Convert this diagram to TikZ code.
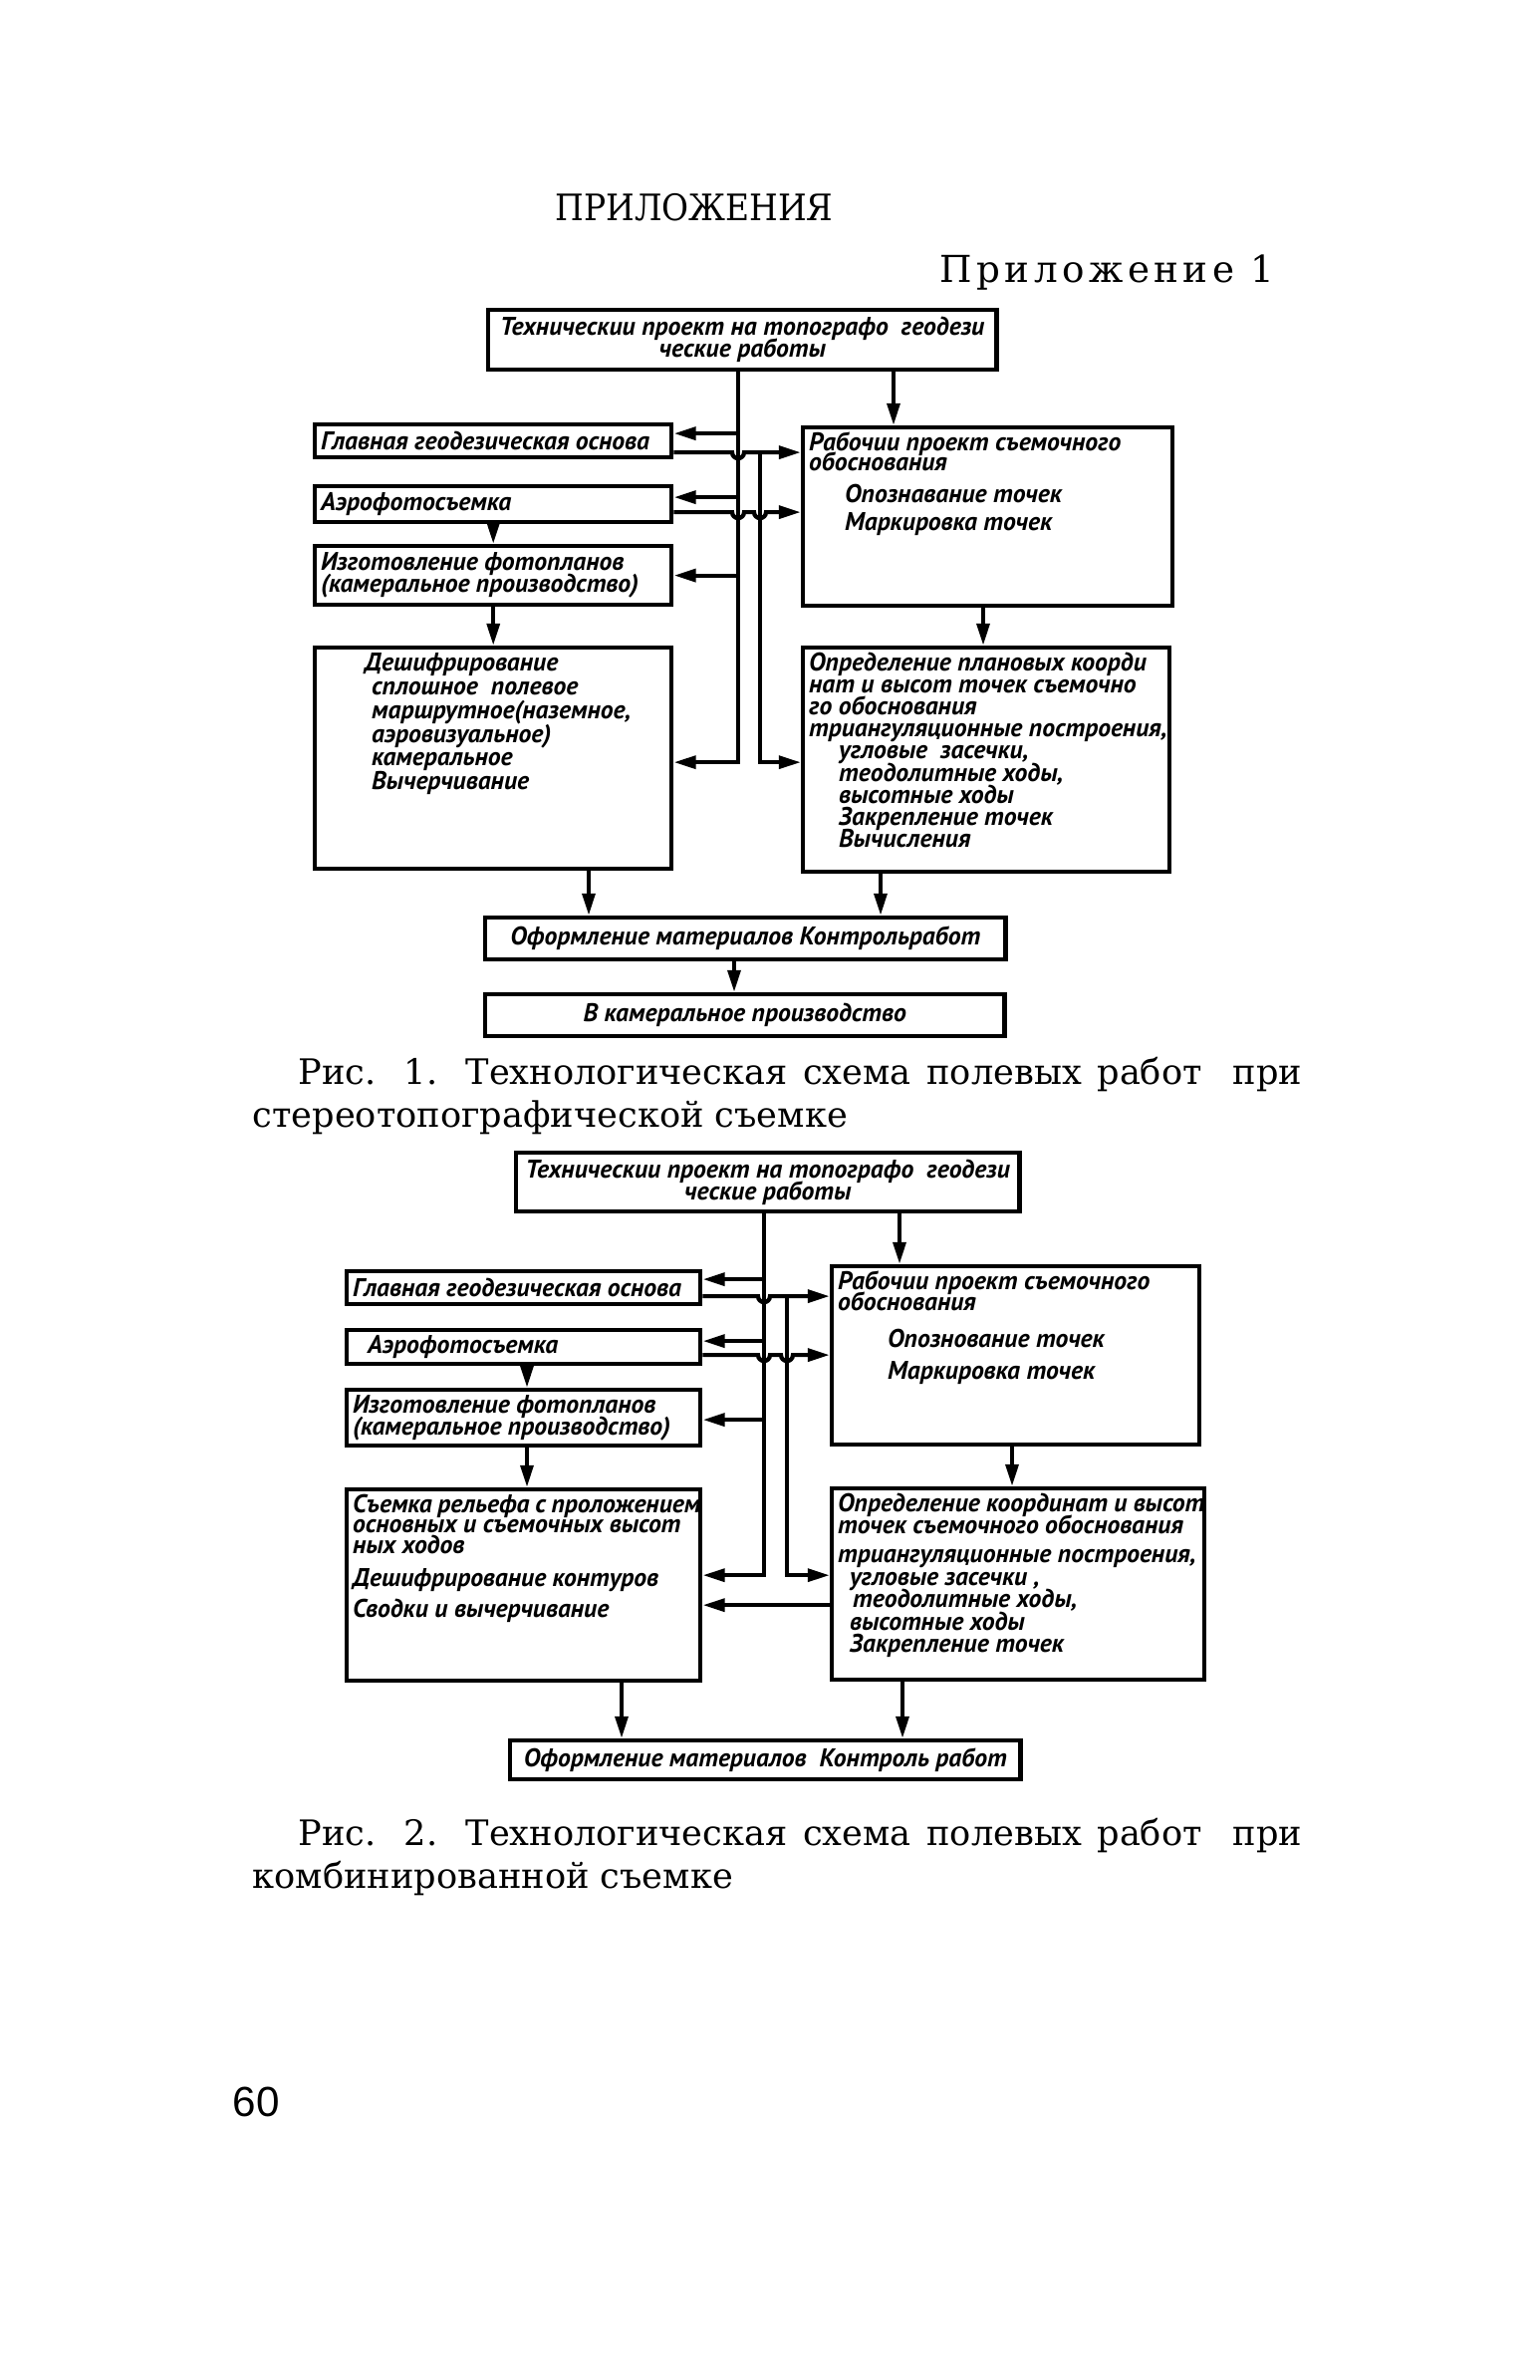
\documentclass[tikz,border=0pt]{standalone}
\usepackage{fontspec}
\setmainfont{DejaVu Serif}
\newfontfamily\draftfont{PT Sans}
\newfontfamily\pagefont{Liberation Sans}
\usepackage{tikz}
\usetikzlibrary{arrows.meta,calc}
% box contents: width, height, text
\newcommand{\plainbox}[3]{\begin{minipage}[c][#2][c]{#1}\lineskiplimit=-10pt\leftskip=0.06cm\relax #3\end{minipage}}
\newcommand{\tallbox}[3]{\begin{minipage}[c][#2][t]{#1}\lineskiplimit=-10pt\leftskip=0.06cm\relax\rule{0pt}{6.6pt}#3\end{minipage}}

\begin{document}
\begin{tikzpicture}[
    x=0.01cm, y=-0.01cm,
    box/.style={draw, line width=1.2pt, inner sep=0pt, anchor=north west,
                font=\draftfont\bfseries\itshape\fontsize{7.3}{6.3}\selectfont},
    arr/.style={-{Triangle[length=6.3pt,width=3.6pt]}, line width=1.2pt},
    caption/.style={anchor=base west, inner sep=0pt, text width=10.53cm, align=justify,
                    font=\fontsize{10}{12.5}\selectfont},
  ]
    \useasboundingbox (0,0) rectangle (1545,2389);

    \node[anchor=base, inner sep=0pt, font={\fontsize{10.4}{13}\selectfont\addfontfeatures{FakeStretch=0.9}}]
      (head) at (697,222) {ПРИЛОЖЕНИЯ};
    \node[anchor=base east, inner sep=0pt, font={\fontsize{10.6}{13}\selectfont\addfontfeatures{LetterSpace=12}}]
      (appx) at (1280,284) {Приложение 1};

    % figure 1
    \node[box] (tech1) at (488,309)
      {\plainbox{5.10cm}{0.60cm}{\centering Техническии проект на топографо\ \ геодези\\ческие работы}};
    \node[box] (main1) at (314,424) {\plainbox{3.58cm}{0.33cm}{Главная геодезическая основа}};
    \node[box] (aero1) at (314,486) {\plainbox{3.58cm}{0.36cm}{Аэрофотосъемка}};
    \node[box] (photo1) at (314,546)
      {\plainbox{3.58cm}{0.59cm}{Изготовление фотопланов\\(камеральное производство)}};
    \node[box] (decode1) at (314,648)
      {\tallbox{3.58cm}{2.22cm}{\baselineskip=6.8pt \leftskip=0.5cm Дешифрирование\\\hspace*{0.07cm}сплошное\ \ полевое\\
       \hspace*{0.07cm}маршрутное(наземное,\\\hspace*{0.07cm}аэровизуальное)\\
       \hspace*{0.07cm}камеральное\\\hspace*{0.07cm}Вычерчивание}};
    \node[box] (work1) at (804,427)
      {\tallbox{3.71cm}{1.79cm}{\baselineskip=5.8pt Рабочии проект съемочного\\обоснования\\[3.3pt]
       \hspace*{0.36cm}Опознавание точек\\[2.2pt]\hspace*{0.36cm}Маркировка точек}};
    \node[box] (coord1) at (804,648)
      {\tallbox{3.68cm}{2.25cm}{Определение плановых коорди\\нат и высот точек съемочно\\го обоснования\\
       триангуляционные построения,\\\hspace*{0.3cm}угловые\ \ засечки,\\
       \hspace*{0.3cm}теодолитные ходы,\\\hspace*{0.3cm}высотные ходы\\
       \hspace*{0.3cm}Закрепление точек\\\hspace*{0.3cm}Вычисления}};
    \node[box] (form1) at (485,919) {\plainbox{5.22cm}{0.42cm}{\centering Оформление материалов Контрольработ}};
    \node[box] (office1) at (485,996) {\plainbox{5.21cm}{0.42cm}{\centering В камеральное производство}};

    \coordinate (trunkA1) at (741,0);
    \coordinate (trunkB1) at (763,0);
    \coordinate (main1in) at ($(main1.east)+(0,-7.5)$);
    \coordinate (main1out) at ($(main1.east)+(0,11.5)$);
    \coordinate (aero1in) at ($(aero1.east)+(0,-7)$);
    \coordinate (aero1out) at ($(aero1.east)+(0,8)$);
    \coordinate (decode1in) at ($(decode1.east)+(0,4)$);
    \coordinate (drop1) at (897,0);
    \coordinate (drop2) at (987,0);
    \coordinate (drop3) at (591,0);
    \coordinate (drop4) at (884,0);
    \coordinate (drop5) at (737,0);

    \draw[arr] (tech1.south -| trunkA1) |- (decode1in);
    \draw[arr] (trunkA1 |- main1in) -- (main1in);
    \draw[arr] (trunkA1 |- aero1in) -- (aero1in);
    \draw[arr] (trunkA1 |- photo1.east) -- (photo1.east);
    \draw[arr] (main1out) -- ($(trunkA1 |- main1out)+(-6,0)$) arc[start angle=180, end angle=360, radius=0.06cm]
      -- (main1out -| work1.west);
    \draw[arr] (trunkB1 |- main1out) |- (coord1.west |- decode1in);
    \draw[arr] (aero1out) -- ($(trunkA1 |- aero1out)+(-6,0)$) arc[start angle=180, end angle=360, radius=0.06cm]
      -- ($(trunkB1 |- aero1out)+(-6,0)$) arc[start angle=180, end angle=360, radius=0.06cm]
      -- (aero1out -| work1.west);
    \draw[arr] (aero1.south) -- (photo1.north);
    \draw[arr] (photo1.south) -- (decode1.north);
    \draw[arr] (tech1.south -| drop1) -- (work1.north -| drop1);
    \draw[arr] (work1.south -| drop2) -- (coord1.north -| drop2);
    \draw[arr] (decode1.south -| drop3) -- (form1.north -| drop3);
    \draw[arr] (coord1.south -| drop4) -- (form1.north -| drop4);
    \draw[arr] (form1.south -| drop5) -- (office1.north -| drop5);

    \node[caption] (cap1) at (253,1088)
      {\hspace*{0.46cm}Рис. 1. Технологическая схема полевых работ\ \ при\linebreak
       стереотопографической съемке};

    % figure 2
    \node[box] (tech2) at (516,1155)
      {\plainbox{5.05cm}{0.59cm}{\centering Техническии проект на топографо\ \ геодези\\ческие работы}};
    \node[box] (main2) at (346,1274) {\plainbox{3.55cm}{0.33cm}{Главная геодезическая основа}};
    \node[box] (aero2) at (346,1333) {\plainbox{3.55cm}{0.34cm}{\hspace*{0.15cm}Аэрофотосъемка}};
    \node[box] (photo2) at (346,1393)
      {\plainbox{3.55cm}{0.56cm}{Изготовление фотопланов\\(камеральное производство)}};
    \node[box] (relief2) at (346,1493)
      {\tallbox{3.55cm}{1.92cm}{\baselineskip=5.8pt Съемка рельефа с проложением\\основных и съемочных высот\\ных ходов\\[3.8pt]
       Дешифрирование контуров\\[2.8pt]Сводки и вычерчивание}};
    \node[box] (work2) at (833,1269)
      {\tallbox{3.69cm}{1.79cm}{\baselineskip=6.1pt Рабочии проект съемочного\\обоснования\\[4.3pt]
       \hspace*{0.5cm}Опознование точек\\[3pt]\hspace*{0.5cm}Маркировка точек}};
    \node[box] (coord2) at (833,1492)
      {\tallbox{3.74cm}{1.92cm}{\baselineskip=6.4pt Определение координат и высот\\точек съемочного обоснования\\[1.8pt]
       триангуляционные построения,\\\hspace*{0.12cm}угловые засечки ,\\
       \hspace*{0.15cm}теодолитные ходы,\\\hspace*{0.12cm}высотные ходы\\
       \hspace*{0.12cm}Закрепление точек}};
    \node[box] (form2) at (510,1745) {\plainbox{5.12cm}{0.39cm}{\centering Оформление материалов\ \ Контроль работ}};

    \coordinate (trunkA2) at (767,0);
    \coordinate (trunkB2) at (790,0);
    \coordinate (main2in) at ($(main2.east)+(0,-8.5)$);
    \coordinate (main2out) at ($(main2.east)+(0,8.5)$);
    \coordinate (aero2in) at ($(aero2.east)+(0,-6)$);
    \coordinate (aero2out) at ($(aero2.east)+(0,8)$);
    \coordinate (photo2in) at ($(photo2.east)+(0,2)$);
    \coordinate (relief2in) at ($(relief2.east)+(0,-10)$);
    \coordinate (relief2back) at ($(relief2.east)+(0,20)$);
    \coordinate (drop6) at (903,0);
    \coordinate (drop7) at (1016,0);
    \coordinate (drop8) at (529,0);
    \coordinate (drop9) at (624,0);
    \coordinate (drop10) at (906,0);

    \draw[arr] (tech2.south -| trunkA2) |- (relief2in);
    \draw[arr] (trunkA2 |- main2in) -- (main2in);
    \draw[arr] (trunkA2 |- aero2in) -- (aero2in);
    \draw[arr] (trunkA2 |- photo2in) -- (photo2in);
    \draw[arr] (main2out) -- ($(trunkA2 |- main2out)+(-6,0)$) arc[start angle=180, end angle=360, radius=0.06cm]
      -- (main2out -| work2.west);
    \draw[arr] (trunkB2 |- main2out) |- (coord2.west |- relief2in);
    \draw[arr] (aero2out) -- ($(trunkA2 |- aero2out)+(-6,0)$) arc[start angle=180, end angle=360, radius=0.06cm]
      -- ($(trunkB2 |- aero2out)+(-6,0)$) arc[start angle=180, end angle=360, radius=0.06cm]
      -- (aero2out -| work2.west);
    \draw[arr] (coord2.west |- relief2back) -- (relief2back);
    \draw[arr] (aero2.south -| drop8) -- (photo2.north -| drop8);
    \draw[arr] (photo2.south -| drop8) -- (relief2.north -| drop8);
    \draw[arr] (tech2.south -| drop6) -- (work2.north -| drop6);
    \draw[arr] (work2.south -| drop7) -- (coord2.north -| drop7);
    \draw[arr] (relief2.south -| drop9) -- (form2.north -| drop9);
    \draw[arr] (coord2.south -| drop10) -- (form2.north -| drop10);

    \node[caption] (cap2) at (253,1852)
      {\hspace*{0.46cm}Рис. 2. Технологическая схема полевых работ\ \ при\linebreak
       комбинированной съемке};

    \node[anchor=base west, inner sep=0pt, font={\pagefont\fontsize{12}{14}\selectfont}] (page) at (233,2124) {60};
  \end{tikzpicture}
\end{document}
